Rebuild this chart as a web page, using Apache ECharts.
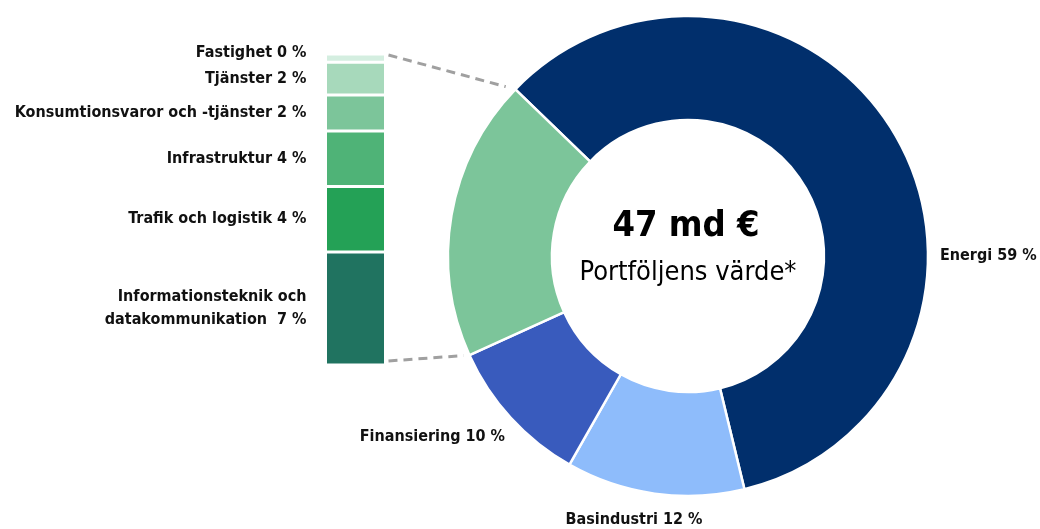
<!DOCTYPE html>
<html>
<head>
<meta charset="utf-8">
<script src="https://cdn.jsdelivr.net/npm/echarts@6/dist/echarts.min.js"></script>
<style>
  html, body { margin: 0; padding: 0; background: #fff; }
  #chart { width: 1040px; height: 529px; }
</style>
</head>
<body>
<div id="chart"></div>
<script>
// donut
var pieNames = ['Energi', 'Basindustri', 'Finansiering', 'Övrigt'];
var pieValues = [59, 12, 10, 19];
var pieColors = ['#012f6c', '#8ebcfb', '#395bbd', '#7cc59a'];

// breakdown of "Övrigt", top to bottom
var barNames = ['Fastighet', 'Tjänster', 'Konsumtionsvaror och -tjänster', 'Infrastruktur', 'Trafik och logistik', 'Informationsteknik och\ndatakommunikation '];
var barValues = [0.5, 2.0, 2.2, 3.4, 4.0, 6.9];
var barLabels = [0, 2, 2, 4, 4, 7];
var barColors = ['#d4eee0', '#a7d9bb', '#7cc59a', '#4fb377', '#24a156', '#207360'];

var FONT = '"Liberation Sans Narrow", "DejaVu Sans Condensed", sans-serif';
var cx = 688, cy = 256, rIn = 136, rOut = 240, startAngle = 136;

var barTotal = barValues.reduce(function (a, b) { return a + b; }, 0);

// stacked from the bottom, so reverse
var barSeries = [];
for (var i = barNames.length - 1; i >= 0; i--) {
  barSeries.push({
    type: 'bar',
    name: barNames[i],
    stack: 'rest',
    barWidth: '100%',
    data: [barValues[i]],
    itemStyle: { color: barColors[i], borderColor: '#fff', borderWidth: 1.5 },
    label: {
      show: true,
      position: 'left',
      distance: 19,
      offset: i === 0 ? [0, -5] : [0, 0],
      formatter: barNames[i] + ' ' + barLabels[i] + ' %',
      fontFamily: FONT,
      fontWeight: 'bold',
      fontSize: 16,
      lineHeight: 23,
      color: '#111'
    },
    silent: true
  });
}

// label spots for the donut (offset from the centre)
var pieLabelPos = [
  { dx: rOut + 12, dy: 0, align: 'left' },
  { dx: -54, dy: 264, align: 'center' },
  { dx: -183, dy: 181, align: 'right' },
  null
];

var chart = echarts.init(document.getElementById('chart'));
chart.setOption({
  animation: false,
  grid: { left: 325.5, top: 54, width: 60, height: 311 },
  xAxis: { type: 'category', data: [''], show: false },
  yAxis: { type: 'value', min: 0, max: barTotal, show: false },
  series: barSeries.concat([{
    type: 'pie',
    center: [cx, cy],
    radius: [rIn, rOut],
    startAngle: startAngle,
    clockwise: true,
    silent: true,
    data: pieNames.map(function (n, k) {
      return { name: n, value: pieValues[k], itemStyle: { color: pieColors[k] }, label: { show: k < 3 } };
    }),
    itemStyle: { borderColor: '#fff', borderWidth: 2.5 },
    label: {
      formatter: function (p) { return p.name + ' ' + p.value + ' %'; },
      fontFamily: FONT,
      fontWeight: 'bold',
      fontSize: 16,
      color: '#111',
      overflow: 'none'
    },
    labelLine: { show: false },
    labelLayout: function (p) {
      var s = pieLabelPos[p.dataIndex];
      if (!s) return {};
      return { x: cx + s.dx, y: cy + s.dy, align: s.align, verticalAlign: 'middle' };
    }
  }]),
  graphic: [
    { id: 'big', type: 'text', x: cx - 2, y: cy - 29, style: { text: '47 md €', fontFamily: FONT, fontWeight: 'bold', fontSize: 36, fill: '#000', align: 'center', verticalAlign: 'middle' } },
    { id: 'sub', type: 'text', x: cx, y: cy + 17, style: { text: 'Portföljens värde*', fontFamily: FONT, fontSize: 27, fill: '#000', align: 'center', verticalAlign: 'middle' } }
  ]
});

// dashed connectors from the bar to the "Övrigt" slice edges
function slicePoint(clockDeg, r) {
  var a = clockDeg * Math.PI / 180;
  return [cx + r * Math.sin(a), cy - r * Math.cos(a)];
}
var clockStart = 90 - startAngle;               // where the first slice starts, clockwise from 12
var otherFrom = clockStart + 360 * (1 - pieValues[3] / 100);
var topCorner = slicePoint(clockStart + 360, rOut);
var botCorner = slicePoint(otherFrom + 360, rOut);
var barTop = chart.convertToPixel({ gridIndex: 0 }, ['', barTotal]);
var barBot = chart.convertToPixel({ gridIndex: 0 }, ['', 0]);
var barRight = 325.5 + 60 + 3;

function shorten(p, q, d) {
  var vx = q[0] - p[0], vy = q[1] - p[1], len = Math.sqrt(vx * vx + vy * vy);
  return [q[0] - vx / len * d, q[1] - vy / len * d];
}
var lineStyle = { stroke: '#a0a0a0', lineWidth: 3, lineDash: [9, 6] };
var t0 = [barRight, barTop[1] + 1], t1 = shorten(t0, topCorner, 10);
var b0 = [barRight, barBot[1] - 4], b1 = shorten(b0, botCorner, 6);
chart.setOption({
  graphic: [
    { id: 'dashTop', type: 'line', shape: { x1: t0[0], y1: t0[1], x2: t1[0], y2: t1[1] }, style: lineStyle, silent: true },
    { id: 'dashBot', type: 'line', shape: { x1: b0[0], y1: b0[1], x2: b1[0], y2: b1[1] }, style: lineStyle, silent: true }
  ]
});
</script>
</body>
</html>
